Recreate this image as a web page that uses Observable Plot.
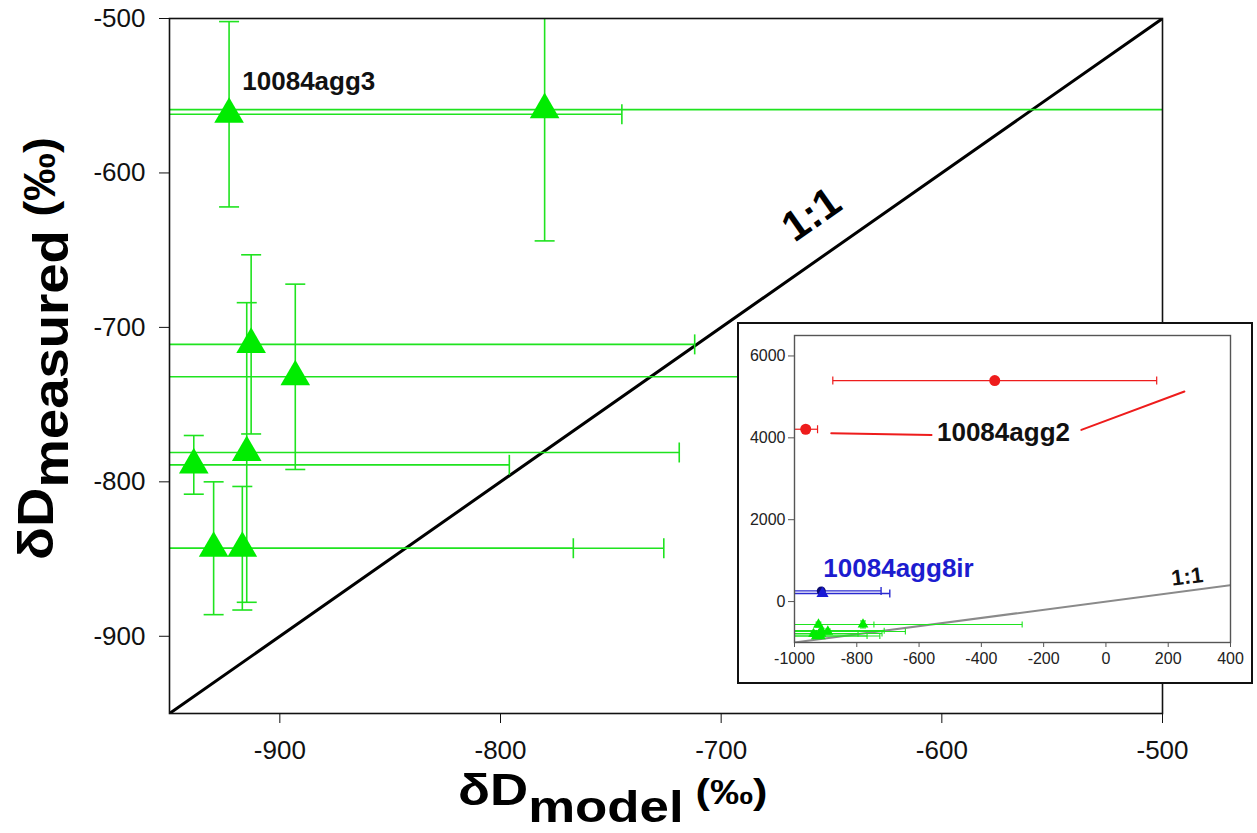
<!DOCTYPE html>
<html>
<head>
<meta charset="utf-8">
<script src="https://cdn.jsdelivr.net/npm/d3@7"></script>
<script src="https://cdn.jsdelivr.net/npm/@observablehq/plot@0.6"></script>
<style>
  body { margin: 0; background: #fff; font-family: "Liberation Sans", Arial, sans-serif; }
  #chart { position: relative; width: 1257px; height: 833px; }
  #inset { position: absolute; left: 737px; top: 322px; width: 512px; height: 358px;
           border: 2px solid #111; background: #fff; }
  svg { display: block; }
</style>
</head>
<body>
<div id="chart"></div>
<script>
// Green triangles: model vs measured δD (‰) with 1σ error bars
const modelD      = [-923, -780, -913, -893, -915, -939, -930, -917];
const measuredD   = [-562, -559, -711, -732, -781, -789, -843, -843];
const modelErr    = [178, 511, 201, 249, 196, 143, 163, 191];
const measuredErr = [60, 85, 58, 60, 97, 19, 43, 40];

// Inset only: red (10084agg2) and blue (10084agg8ir) samples
const redModel    = [-357, -964];
const redMeasured = [5400, 4210];
const redModelErr = [520, 38];
const blueModel    = [-914, -910];
const blueMeasured = [260, 196];
const blueModelErr = [192, 216];
const blueSymbol   = ["circle", "triangle"];
const blueColor    = ["#0b0b6e", "#1a1ad6"];

// Red trend line drawn around the 10084agg2 label (two visible pieces)
const trendModel    = [-882, -560, -79, 252];
const trendMeasured = [4113, 4071, 4193, 5131];
const trendPiece    = [1, 1, 2, 2];

// Axis ticks and ranges
const mainDomain  = [-950, -500];
const mainTicks   = [-900, -800, -700, -600, -500];
const insetXDomain = [-1000, 400];
const insetYDomain = [-1000, 6500];
const insetXTicks = [-1000, -800, -600, -400, -200, 0, 200, 400];
const insetYTicks = [0, 2000, 4000, 6000];

const green = "#1fe31f";
const greenFill = "#00ec00";
const red = "#ee1c1c";
const plain = d => String(d); // hyphen-minus, no thousands separator

const pts = modelD.map((x, i) => ({x, y: measuredD[i], ex: modelErr[i], ey: measuredErr[i]}));
const reds = redModel.map((x, i) => ({x, y: redMeasured[i], ex: redModelErr[i]}));
const blues = blueModel.map((x, i) => ({x, y: blueMeasured[i], ex: blueModelErr[i], s: blueSymbol[i], c: blueColor[i]}));
const trend = trendModel.map((x, i) => ({x, y: trendMeasured[i], piece: trendPiece[i]}));

// Error-bar caps as line symbols of fixed half-length
const cap = (vertical, half) => ({
  draw(ctx) {
    if (vertical) { ctx.moveTo(0, -half); ctx.lineTo(0, half); }
    else { ctx.moveTo(-half, 0); ctx.lineTo(half, 0); }
  }
});

function errorMarks(data, color, capHalf, width) {
  return [
    Plot.link(data, {x1: d => d.x - d.ex, x2: d => d.x + d.ex, y1: "y", y2: "y",
      stroke: color, strokeWidth: width, clip: true}),
    Plot.dot(data, {x: d => d.x + d.ex, y: "y", symbol: cap(true, capHalf),
      fill: "none", stroke: color, strokeWidth: width, clip: true}),
    Plot.dot(data, {x: d => d.x - d.ex, y: "y", symbol: cap(true, capHalf),
      fill: "none", stroke: color, strokeWidth: width, clip: true})
  ];
}
function yErrorMarks(data, color, capHalf, width) {
  return [
    Plot.link(data, {x1: "x", x2: "x", y1: d => d.y - d.ey, y2: d => d.y + d.ey,
      stroke: color, strokeWidth: width, clip: true}),
    Plot.dot(data, {x: "x", y: d => d.y + d.ey, symbol: cap(false, capHalf),
      fill: "none", stroke: color, strokeWidth: width, clip: true}),
    Plot.dot(data, {x: "x", y: d => d.y - d.ey, symbol: cap(false, capHalf),
      fill: "none", stroke: color, strokeWidth: width, clip: true})
  ];
}

const main = Plot.plot({
  width: 1257,
  height: 833,
  marginLeft: 169,
  marginRight: 95,
  marginTop: 18,
  marginBottom: 120,
  style: {fontFamily: "'Liberation Sans', Arial, sans-serif", fontSize: "26px", color: "#111", background: "#fff"},
  x: {domain: mainDomain},
  y: {domain: mainDomain},
  marks: [
    Plot.axisX({ticks: mainTicks, tickFormat: plain, tickSize: 10, tickPadding: 17, fontSize: 26, label: null, stroke: "#111"}),
    Plot.axisY({ticks: mainTicks, tickFormat: plain, tickSize: 10, tickPadding: 14, fontSize: 26, label: null, stroke: "#111"}),
    Plot.line(mainDomain, {x: d => d, y: d => d, stroke: "#000", strokeWidth: 3, clip: true}),
    ...errorMarks(pts, green, 10, 1.6),
    ...yErrorMarks(pts, green, 10, 1.6),
    Plot.dot(pts, {x: "x", y: "y", symbol: "triangle", r: 11, fill: greenFill, stroke: "none"}),
    Plot.text(["10084agg3"], {x: -917, y: -541, text: d => d, textAnchor: "start",
      fontSize: 26, fontWeight: "bold", fill: "#111"}),
    Plot.text(["1:1"], {x: -659, y: -627, text: d => d, rotate: -35,
      fontSize: 42, fontWeight: "bold", fill: "#000"}),
    Plot.frame({stroke: "#111", strokeWidth: 1.6})
  ]
});

const chart = document.getElementById("chart");
chart.appendChild(main);

// Axis titles with subscripts (slightly widened lettering)
const svg = d3.select(main);
const xt = svg.append("text")
  .attr("transform", "translate(458,805) scale(1.2,1)")
  .attr("text-anchor", "start")
  .attr("font-size", 44).attr("font-weight", "bold").attr("fill", "#000");
xt.append("tspan").text("δD");
xt.append("tspan").attr("dy", 17).text("model");
xt.append("tspan").attr("dy", -18).attr("font-size", 36).text(" (‰)");

const yt = svg.append("text")
  .attr("transform", "translate(53,560) rotate(-90) scale(1.09,1)")
  .attr("text-anchor", "start")
  .attr("font-size", 50).attr("font-weight", "bold").attr("fill", "#000");
yt.append("tspan").text("δD");
yt.append("tspan").attr("dy", 15).text("measured");
yt.append("tspan").attr("dy", -13).attr("font-size", 44).text(" (‰)");

// Inset: full range including the enriched samples
const insetDiv = document.createElement("div");
insetDiv.id = "inset";
chart.appendChild(insetDiv);

const inset = Plot.plot({
  width: 512,
  height: 358,
  marginLeft: 55,
  marginRight: 21,
  marginTop: 11,
  marginBottom: 40,
  style: {fontFamily: "'Liberation Sans', Arial, sans-serif", fontSize: "16px", color: "#222", background: "#fff"},
  x: {domain: insetXDomain},
  y: {domain: insetYDomain},
  marks: [
    Plot.axisX({ticks: insetXTicks, tickFormat: plain, tickSize: 5, tickPadding: 5, fontSize: 16, label: null, stroke: "#555"}),
    Plot.axisY({ticks: insetYTicks, tickFormat: plain, tickSize: 6, tickPadding: 3, fontSize: 16, label: null, stroke: "#555"}),
    Plot.line(insetXDomain, {x: d => d, y: d => d, stroke: "#8a8a8a", strokeWidth: 2, clip: true}),
    ...errorMarks(pts, green, 3, 1.1),
    ...yErrorMarks(pts, green, 3, 1.1),
    Plot.dot(pts, {x: "x", y: "y", symbol: "triangle", r: 4, fill: greenFill, stroke: "none"}),
    Plot.line(trend, {x: "x", y: "y", z: "piece", stroke: red, strokeWidth: 2}),
    ...errorMarks(reds, red, 4, 1.2),
    Plot.dot(reds, {x: "x", y: "y", r: 5.5, fill: red, stroke: "none"}),
    ...errorMarks(blues, "#2a2ad0", 4, 1.4),
    Plot.dot(blues, {x: "x", y: "y", symbol: "s", r: 4.5, fill: "c", stroke: "none"}),
    Plot.text(["10084agg2"], {x: -329, y: 4127, text: d => d, fontSize: 26, fontWeight: "bold", fill: "#111"}),
    Plot.text(["10084agg8ir"], {x: -666, y: 815, text: d => d, fontSize: 26, fontWeight: "bold", fill: "#1c1ccf"}),
    Plot.text(["1:1"], {x: 261, y: 602, text: d => d, rotate: -7, fontSize: 22, fontWeight: "bold", fill: "#111"}),
    Plot.frame({stroke: "#555", strokeWidth: 1.4})
  ]
});
insetDiv.appendChild(inset);
</script>
</body>
</html>
